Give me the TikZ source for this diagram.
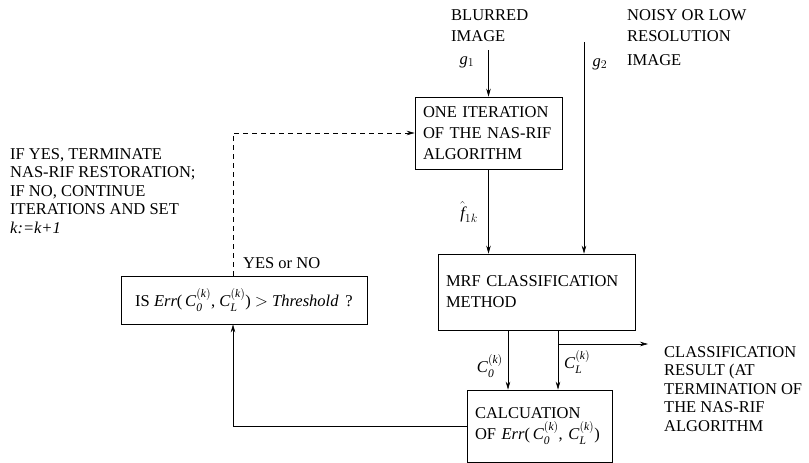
\documentclass[tikz,border=0pt]{standalone}
\usepackage{amsmath}
\usepackage{fontspec}
\setmainfont{Liberation Serif}
\usetikzlibrary{arrows.meta}
\newcommand{\cTerm}[1]{\textit{C}$^{(\textit{k})}_{\textit{#1}}$}
\newcommand{\errTerm}{\textit{Err}(\,\cTerm{0}, \cTerm{L})}
\newcommand{\smallLines}{\fontsize{16.5}{18.5}\selectfont}

\begin{document}
\begin{tikzpicture}[%%
  x=1pt,y=-1pt,%%
  font=\fontsize{16.5}{21}\selectfont,%%
  boxStyle/.style={draw,line width=0.7pt,inner xsep=8pt,inner ysep=0pt,align=left},%%
  arrowStyle/.style={-{Stealth[length=8pt,width=4.5pt]},line width=0.6pt},%%
  dashStyle/.style={arrowStyle,dash pattern=on 5pt off 4pt},%%
  textStyle/.style={inner sep=0pt,align=left}%%
]
\useasboundingbox (0,0) rectangle (809,463);
%%
%% Coordinates of the free ends and of the vertical lines.
\pgfmathsetmacro{\xLoop}{233}
\pgfmathsetmacro{\xCo}{508}
\pgfmathsetmacro{\xCl}{558}
\coordinate (loopX) at (\xLoop,0);
\coordinate (g1top) at (0,50);
\coordinate (g2top) at (584,42);
\coordinate (clSplit) at (\xCl,344);
\coordinate (resultEnd) at (648,344);
%%
%% The boxes.
\node[boxStyle,text width=131pt,minimum height=72] (iterBox) at (488.5,133)
  {ONE ITERATION\\OF THE NAS-RIF\\ALGORITHM};
\node[boxStyle,text width=181pt,minimum height=76] (mrfBox) at (536.5,292)
  {MRF CLASSIFICATION\\METHOD};
\node[boxStyle,text width=129pt,minimum height=72] (calcBox) at (539.5,426)
  {CALCUATION\\OF \errTerm};
\node[boxStyle,align=center,minimum width=246,minimum height=48] (isBox) at (244,300)
  {IS \errTerm\ $>$ \textit{Threshold}\, ?};
%%
%% The texts.
\node[textStyle,anchor=north west] (blurred) at (451,9) {BLURRED\\IMAGE};
\node[textStyle,anchor=north west] (noisy) at (627,9) {NOISY OR LOW\\RESOLUTION\\[3pt]IMAGE};
\node[textStyle,anchor=north west,font=\smallLines] (decision) at (10,148)
  {IF YES, TERMINATE\\NAS-RIF RESTORATION;\\IF NO, CONTINUE\\ITERATIONS AND SET\\\textit{k:=k+1}};
\node[textStyle,anchor=north west,font=\smallLines] (result) at (664,346)
  {CLASSIFICATION\\RESULT (AT\\TERMINATION OF\\THE NAS-RIF\\ALGORITHM};
\node[textStyle] (gOne) at (467,62) {\textit{g}$_1$};
\node[textStyle] (gTwo) at (600,64) {\textit{g}$_2$};
\node[textStyle,anchor=east] (fHat) at (478,212) {$\hat{\textit{f}}_{1k}$};
\node[textStyle,anchor=west] (yesNo) at (243,263) {YES or NO};
\node[textStyle,anchor=east] (cZero) at (503,366) {\cTerm{0}};
\node[textStyle,anchor=west] (cEll) at (564,362) {\cTerm{L}};
%%
%% The connectors.
\draw[arrowStyle] (iterBox.north |- g1top) -- (iterBox.north);
\draw[arrowStyle] (g2top) -- (g2top |- mrfBox.north);
\draw[arrowStyle] (iterBox.south) -- (iterBox.south |- mrfBox.north);
\draw[arrowStyle] (mrfBox.south -| \xCo,0) -- (calcBox.north -| \xCo,0);
\draw[arrowStyle] (mrfBox.south -| \xCl,0) -- (calcBox.north -| \xCl,0);
\draw[arrowStyle] (clSplit) -- (resultEnd);
\draw[arrowStyle] (calcBox.west) -| (isBox.south -| loopX);
\draw[dashStyle] (isBox.north -| loopX) |- (iterBox.west);
\end{tikzpicture}
\end{document}
